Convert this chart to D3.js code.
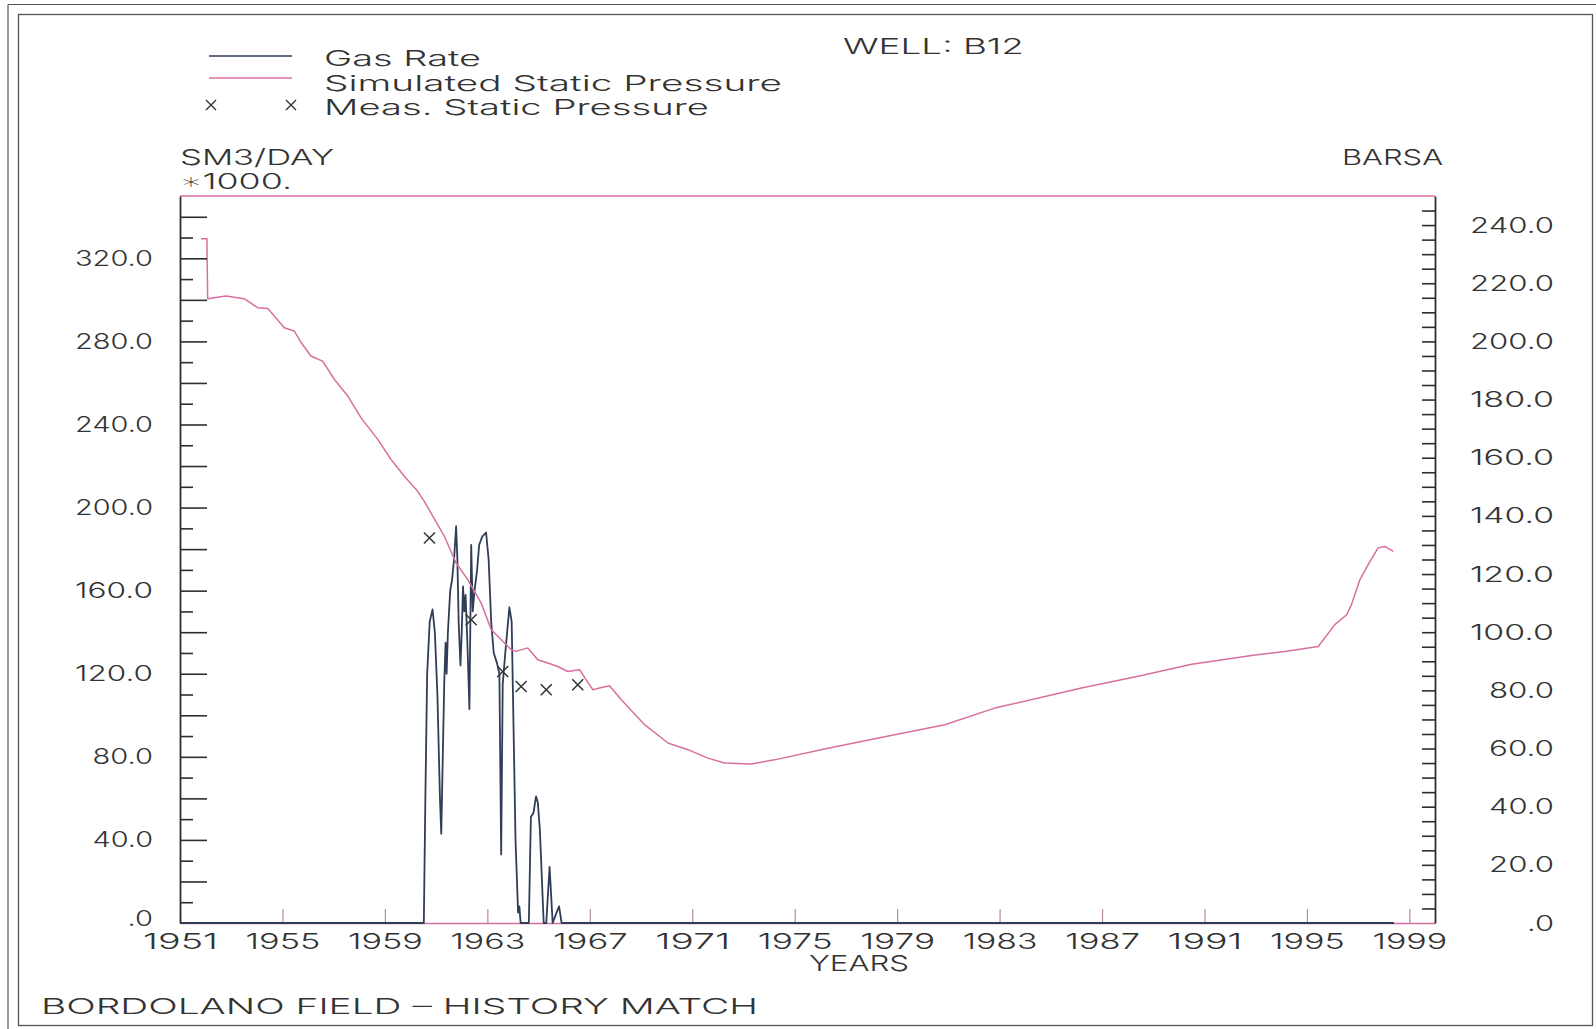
<!DOCTYPE html>
<html><head><meta charset="utf-8">
<script src="https://cdn.jsdelivr.net/npm/d3@7"></script>
<style>
body{margin:0;background:#fff}
svg text{font-family:Inter,"DejaVu Sans",sans-serif;font-weight:300;fill:#333;font-size:22px}
</style>
</head><body><svg id="c" width="1596" height="1029"></svg>
<script>
// ---- data ----
const gasYears = [1951, 1960.52, 1960.58, 1960.65, 1960.75, 1960.86, 1960.95, 1961.05, 1961.15, 1961.2, 1961.26, 1961.32, 1961.37, 1961.41, 1961.46, 1961.55, 1961.62, 1961.7, 1961.78, 1961.83, 1961.88, 1961.95, 1962.0, 1962.05, 1962.1, 1962.15, 1962.22, 1962.3, 1962.37, 1962.43, 1962.5, 1962.6, 1962.68, 1962.8, 1962.95, 1963.05, 1963.15, 1963.25, 1963.38, 1963.47, 1963.54, 1963.6, 1963.7, 1963.86, 1963.95, 1964.0, 1964.1, 1964.2, 1964.25, 1964.3, 1964.62, 1964.7, 1964.8, 1964.9, 1964.97, 1965.05, 1965.2, 1965.3, 1965.43, 1965.55, 1965.7, 1965.8, 1965.9, 1998.4];
const gasRates = [0, 0, 60, 120, 145, 151, 140, 110, 60, 43, 80, 117, 135, 120, 140, 160, 165, 175, 191, 175, 145, 124, 140, 162, 150, 158, 135, 103, 182, 150, 160, 170, 182, 186, 188, 175, 145, 130, 125, 120, 33, 115, 130, 152, 145, 110, 40, 5, 8, 0, 0, 51, 53, 61, 58, 45, 0, 0, 27, 0, 5, 8, 0, 0];

const pressYears = [1951.82, 1952.05, 1952.08, 1952.34, 1952.8, 1953.5, 1953.8, 1954.03, 1954.43, 1954.68, 1955.07, 1955.46, 1955.73, 1956.12, 1956.57, 1957.03, 1957.55, 1958.07, 1958.72, 1959.24, 1959.76, 1960.22, 1960.54, 1960.93, 1961.32, 1961.78, 1962.24, 1962.76, 1963.15, 1963.54, 1963.93, 1964.12, 1964.58, 1964.97, 1965.36, 1965.75, 1966.14, 1966.6, 1966.86, 1967.12, 1967.38, 1967.77, 1968.23, 1969.14, 1970.05, 1970.83, 1971.61, 1972.26, 1973.3, 1974.21, 1976.3, 1978.9, 1980.86, 1982.81, 1986.2, 1988.5, 1990.5, 1992.84, 1994.14, 1995.44, 1996.09, 1996.55, 1996.74, 1997.07, 1997.39, 1997.78, 1998.04, 1998.37];
const pressValues = [235.3, 235.3, 214.7, 215, 215.6, 214.7, 213, 211.6, 211.3, 208.7, 204.7, 203.6, 199.6, 194.9, 193.2, 186.9, 181.2, 173.7, 166.3, 159.4, 153.6, 149.1, 145, 139, 133, 123.8, 118, 110, 100.9, 97.4, 94, 93.4, 94.6, 90.5, 89.4, 88.2, 86.5, 87.1, 83.6, 80.2, 80.8, 81.6, 76.8, 68.2, 61.9, 59.6, 56.7, 55, 54.7, 56.1, 60.1, 64.7, 68.2, 73.9, 80.8, 85, 89, 92, 93.4, 95.1, 102.6, 106, 109.5, 118.1, 123.2, 129, 129.5, 127.8];

const measYears = [1960.74, 1962.37, 1963.6, 1964.32, 1965.3, 1966.53];
const measValues = [132.4, 104.3, 86.5, 81.3, 80.2, 81.9];

const yearTicks = [1951, 1955, 1959, 1963, 1967, 1971, 1975, 1979, 1983, 1987, 1991, 1995, 1999];
const rateLabelTicks = [0, 40, 80, 120, 160, 200, 240, 280, 320];
const pressLabelTicks = [0, 20, 40, 60, 80, 100, 120, 140, 160, 180, 200, 220, 240];

// ---- drawing ----
const PINK = "#d86f9f", NAVY = "#2f3e56", INK = "#2e2e2e";
const svg = d3.select("#c");
const L = 180, R = 1435, T = 196, B = 923;
const x = d3.scaleLinear().domain([1951, 2000]).range([L, R]);
const yL = d3.scaleLinear().domain([0, 350]).range([B, T]);
const yR = d3.scaleLinear().domain([0, 250]).range([B, T]);
const fmt = d => d === 0 ? ".0" : d3.format(".1f")(d);
const textW = (s, dw) => [...s].reduce((a, c) => a + (c === "." ? 8 : dw), 0);

// outer double frame
svg.append("line").attr("x1", 8).attr("x2", 1596).attr("y1", 4.5).attr("y2", 4.5).attr("stroke", "#555").attr("stroke-width", 1.2);
svg.append("line").attr("x1", 8).attr("x2", 8).attr("y1", 4.5).attr("y2", 1029).attr("stroke", "#555").attr("stroke-width", 1.2);
svg.append("rect").attr("x", 18.5).attr("y", 14.5).attr("width", 1574).attr("height", 1011)
  .attr("fill", "none").attr("stroke", "#555").attr("stroke-width", 1.3);

// top frame line (pink)
svg.append("line").attr("x1", L).attr("x2", R).attr("y1", T).attr("y2", T)
  .attr("stroke", PINK).attr("stroke-width", 1.6);

// bottom axis
const gx = svg.append("g").attr("transform", `translate(0,${B})`)
  .call(d3.axisBottom(x).tickValues(yearTicks).tickFormat(d3.format("d")).tickSizeOuter(0));
gx.attr("font-size", null).attr("font-family", null);
gx.select(".domain").attr("stroke", PINK).attr("stroke-width", 1.6);
gx.selectAll(".tick line").attr("y2", -14).attr("stroke", "#b88aa0").attr("stroke-width", 1.2);
gx.selectAll(".tick text").attr("y", 26).attr("dy", 0)
  .attr("textLength", d => textW(String(d), 18.7)).attr("lengthAdjust", "spacingAndGlyphs");

// gas rate
const line = d3.line();
svg.append("path")
  .attr("d", line(gasYears.map((v, i) => [x(v), yL(gasRates[i])])))
  .attr("fill", "none").attr("stroke", NAVY).attr("stroke-width", 1.8).attr("stroke-linejoin", "round");

// simulated pressure
svg.append("path")
  .attr("d", line(pressYears.map((v, i) => [x(v), yR(pressValues[i])])))
  .attr("fill", "none").attr("stroke", PINK).attr("stroke-width", 1.5).attr("stroke-linejoin", "round");

// measured pressure markers
const cross = "M-5.5,-5.5L5.5,5.5M-5.5,5.5L5.5,-5.5";
svg.append("g").selectAll("path").data(measYears).join("path")
  .attr("transform", (d, i) => `translate(${x(d)},${yR(measValues[i])})`)
  .attr("d", cross).attr("stroke", "#333").attr("stroke-width", 1.5).attr("fill", "none");

// left axis
const leftTicks = d3.range(0, 350, 10);
const gl = svg.append("g").attr("transform", `translate(${L},0)`)
  .call(d3.axisLeft(yL).tickValues(leftTicks).tickSizeOuter(0)
    .tickFormat(d => rateLabelTicks.includes(d) ? fmt(d) : ""));
gl.attr("font-size", null).attr("font-family", null);
gl.select(".domain").attr("stroke", INK).attr("stroke-width", 1.8);
gl.selectAll(".tick line").attr("x2", d => d === 0 ? 0 : (d % 20 === 0 ? 27 : 13))
  .attr("stroke", INK).attr("stroke-width", 1.6);
gl.selectAll(".tick text").filter(d => rateLabelTicks.includes(d))
  .attr("x", -27).attr("dy", d => d === 0 ? "0.12em" : "0.32em")
  .attr("textLength", d => textW(fmt(d), 17.5)).attr("lengthAdjust", "spacingAndGlyphs");

// right axis
const rightTicks = d3.range(0, 250, 5);
const gr = svg.append("g").attr("transform", `translate(${R},0)`)
  .call(d3.axisRight(yR).tickValues(rightTicks).tickSizeOuter(0)
    .tickFormat(d => pressLabelTicks.includes(d) ? fmt(d) : ""));
gr.attr("font-size", null).attr("font-family", null);
gr.select(".domain").attr("stroke", INK).attr("stroke-width", 1.8);
gr.selectAll(".tick line").attr("x2", d => d === 0 ? 0 : -13).attr("stroke", INK).attr("stroke-width", 1.6);
gr.selectAll(".tick text").filter(d => pressLabelTicks.includes(d))
  .attr("x", 119).attr("text-anchor", "end")
  .attr("textLength", d => textW(fmt(d), 19)).attr("lengthAdjust", "spacingAndGlyphs");

// legend
svg.append("line").attr("x1", 209).attr("x2", 292).attr("y1", 56).attr("y2", 56)
  .attr("stroke", NAVY).attr("stroke-width", 1.6);
svg.append("line").attr("x1", 209).attr("x2", 292).attr("y1", 78).attr("y2", 78)
  .attr("stroke", PINK).attr("stroke-width", 1.6);
[211, 291].forEach(cx => svg.append("path").attr("transform", `translate(${cx},105)`)
  .attr("d", "M-5,-5L5,5M-5,5L5,-5").attr("stroke", "#333").attr("stroke-width", 1.4));

const texts = [
  ["Gas Rate", 324, 66, 157],
  ["Simulated Static Pressure", 324, 91, 458],
  ["Meas. Static Pressure", 324, 115, 385],
  ["WELL: B12", 843, 54, 181],
  ["SM3/DAY", 180, 165, 154],
  ["\u22171000.", 180, 189, 112],
  ["BARSA", 1342, 165, 101],
  ["YEARS", 809, 971, 100],
  ["BORDOLANO FIELD  \u2013 HISTORY MATCH", 41, 1014, 717]
];
texts.forEach(([t, tx, ty, tl]) => svg.append("text").attr("x", tx).attr("y", ty)
  .attr("textLength", tl).attr("lengthAdjust", "spacingAndGlyphs").text(t));
</script>
</body></html>
